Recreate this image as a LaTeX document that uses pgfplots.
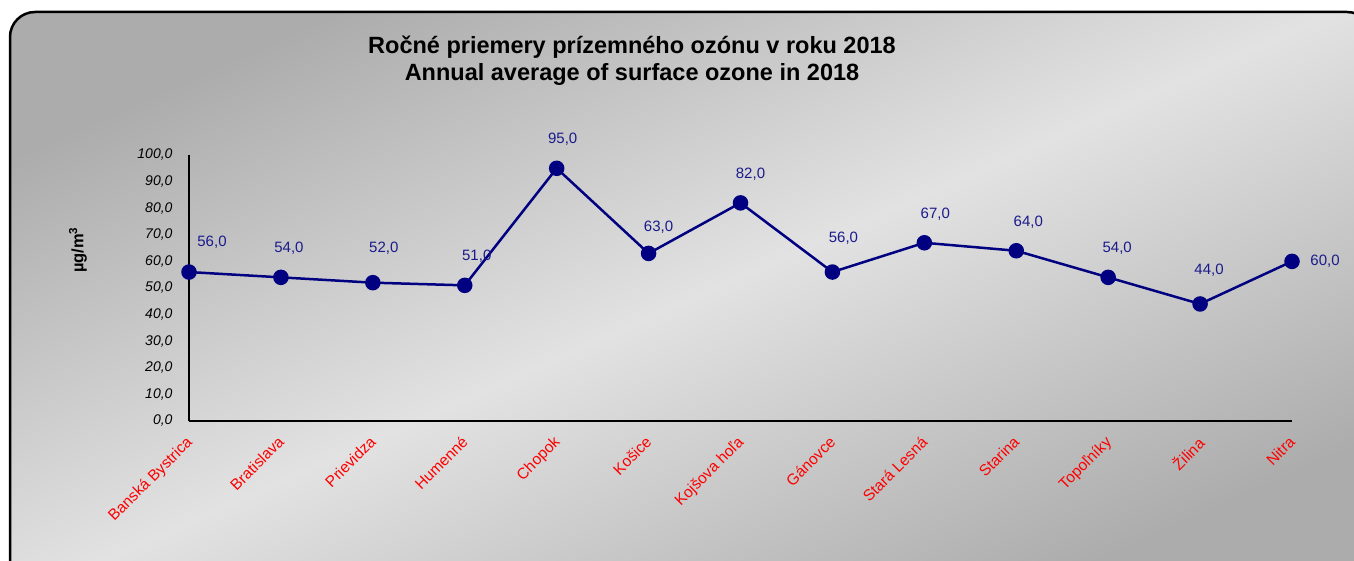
\documentclass[border=0pt]{standalone}
\usepackage{pgfplots}
\pgfplotsset{compat=1.18}
\usepackage{pgfplotstable}
\usepackage{fontspec}
\setmainfont{Liberation Sans}
\definecolor{navyline}{RGB}{0,0,128}
\definecolor{navytext}{RGB}{26,26,140}
\definecolor{bgdark}{RGB}{172,172,172}
\definecolor{bglight}{RGB}{226,226,226}
\definecolor{lblred}{RGB}{255,0,0}
\pgfplotstableread{
x y dx dy
0 56 23 30
1 54 8 29
2 52 11 34
3 51 12 29
4 95 6 29
5 63 10 26
6 82 10 29
7 56 11 34
8 67 11 29
9 64 12 29
10 54 9 29
11 44 9 34
12 60 33 0
}\ozone
\begin{document}
\begin{tikzpicture}[x=1pt,y=1pt]
\useasboundingbox (0,0) rectangle (1354,560);
\clip (0,0) rectangle (1354,560);
\shade[rounded corners=25pt, top color=bgdark, bottom color=bgdark, middle color=bglight, shading angle=24] (10,-25) rectangle (1372,548);
\draw[rounded corners=25pt, line width=2.5pt] (10,-25) rectangle (1372,548);
\node[font=\fontsize{23.5}{27}\selectfont\bfseries, align=center] at (632,499) {Ročné priemery prízemného ozónu v roku 2018\\Annual average of surface ozone in 2018};
\node[rotate=90, font=\fontsize{16.5}{18}\selectfont\bfseries] at (78,310) {µg/m\textsuperscript{3}};
\begin{axis}[
  at={(189pt,139pt)}, anchor=south west,
  scale only axis, width=1103pt, height=266pt,
  xmin=0, xmax=12, ymin=0, ymax=100,
  clip=false,
  axis x line*=bottom, axis y line*=left,
  axis line style={-},
  x axis line style={line width=1.5pt},
  y axis line style={line width=2.5pt},
  major tick length=0pt,
  ytick distance=10,
  xtick={0,...,12},
  xticklabels={Banská Bystrica,Bratislava,Prievidza,Humenné,Chopok,Košice,Kojšova hoľa,Gánovce,Stará Lesná,Starina,Topoľníky,Žilina,Nitra},
  xticklabel style={xshift=-4pt, yshift=-14pt, rotate=45, anchor=north east, font=\fontsize{15.5}{17}\selectfont, text=lblred, inner sep=0pt},
  yticklabel style={xshift=-13pt, font=\fontsize{14}{16}\selectfont\itshape},
  y tick label style={/pgf/number format/.cd, fixed, fixed zerofill, precision=1, use comma, assume math mode=true},
]
\addplot[navyline, line width=2.5pt, mark=*, mark size=6.5pt, mark options={fill=navyline, draw=navyline},
  visualization depends on={\thisrow{dx} \as \dx},
  visualization depends on={\thisrow{dy} \as \dy},
  point meta=explicit, 
  nodes near coords={\pgfmathprintnumber[fixed,fixed zerofill,precision=1,use comma,assume math mode=true]{\pgfplotspointmeta}},
  every node near coord/.append style={anchor=center, xshift=\dx pt, yshift=\dy pt, font=\fontsize{15}{17}\selectfont, text=navytext, inner sep=0pt},
] table[x=x, y=y, meta=y] {\ozone};
\end{axis}
\end{tikzpicture}
\end{document}
